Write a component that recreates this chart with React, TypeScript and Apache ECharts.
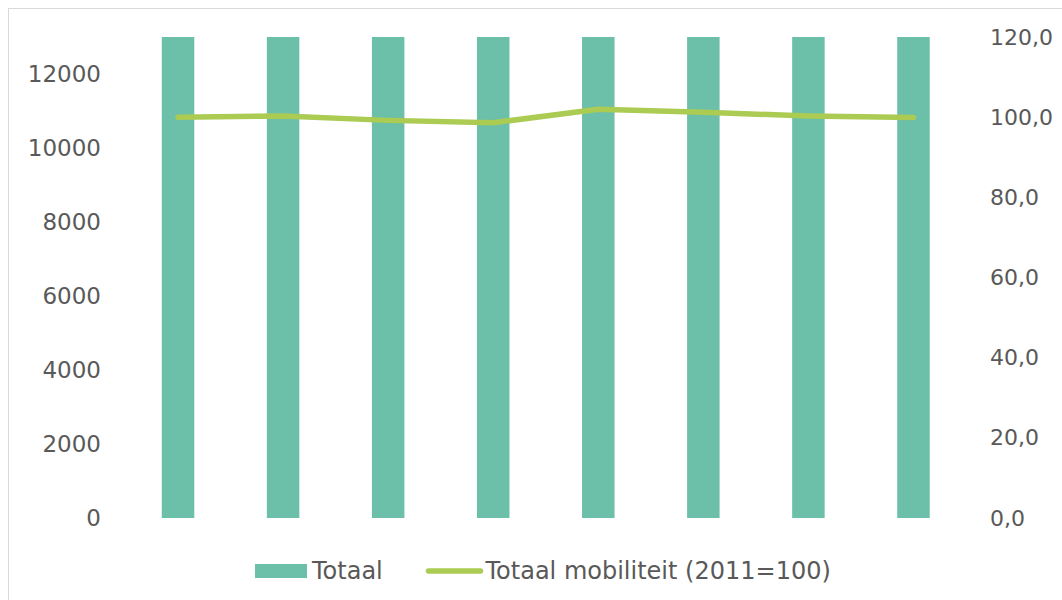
import React, { useEffect, useRef } from "react";
import * as echarts from "echarts";

const categories = ["2011", "2012", "2013", "2014", "2015", "2016", "2017", "2018"];
const totaal = [15400, 15450, 15280, 15180, 15700, 15580, 15450, 15380];
const mobiliteit = [100.0, 100.3, 99.2, 98.6, 102.0, 101.2, 100.3, 99.9];
const leftTicks = { min: 0, max: 13000, interval: 2000 };
const rightTicks = { min: 0, max: 120, interval: 20 };

const FONT = "DejaVu Sans";
const GRAY = "#595959";
const TEAL = "#6cbfa8";
const GREEN = "#abcb53";

export default function App() {
  const ref = useRef<HTMLDivElement>(null);
  useEffect(() => {
    if (!ref.current) return;
    const chart = echarts.init(ref.current, undefined, { renderer: "svg" });
    chart.setOption({
      animation: false,
      backgroundColor: "#ffffff",
      textStyle: { fontFamily: FONT },
      grid: { left: 116.5, right: 96, top: 28, bottom: 82, containLabel: false },
      legend: {
        left: 241,
        top: 545,
        itemWidth: 52,
        itemHeight: 14,
        itemGap: 43,
        textStyle: { fontFamily: FONT, fontSize: 24, color: GRAY },
        data: [
          { name: "Totaal", icon: "rect" },
          {
            name: "Totaal mobiliteit (2011=100)",
            itemStyle: { opacity: 0 },
            lineStyle: { width: 5.5, cap: "round", color: GREEN },
          },
        ],
      },
      xAxis: {
        type: "category",
        data: categories,
        axisLine: { show: false },
        axisTick: { show: false },
        axisLabel: { show: false },
        splitLine: { show: false },
      },
      yAxis: [
        {
          type: "value",
          min: leftTicks.min,
          max: leftTicks.max,
          interval: leftTicks.interval,
          axisLine: { show: false },
          axisTick: { show: false },
          splitLine: { show: false },
          axisLabel: {
            showMaxLabel: false,
            margin: 24.5,
            fontFamily: FONT,
            fontSize: 23,
            color: GRAY,
            formatter: (v: number) => String(v),
          },
        },
        {
          type: "value",
          position: "right",
          min: rightTicks.min,
          max: rightTicks.max,
          interval: rightTicks.interval,
          axisLine: { show: false },
          axisTick: { show: false },
          splitLine: { show: false },
          axisLabel: {
            margin: 24,
            fontFamily: FONT,
            fontSize: 22,
            color: GRAY,
            formatter: (v: number) => v.toFixed(1).replace(".", ","),
          },
        },
      ],
      series: [
        {
          name: "Totaal",
          type: "bar",
          data: totaal,
          yAxisIndex: 0,
          barWidth: 32.5,
          clip: true,
          itemStyle: { color: TEAL },
        },
        {
          name: "Totaal mobiliteit (2011=100)",
          type: "line",
          data: mobiliteit,
          yAxisIndex: 1,
          symbol: "none",
          itemStyle: { color: GREEN },
          lineStyle: { color: GREEN, width: 5.5, cap: "round", join: "round" },
        },
      ],
    });
    return () => chart.dispose();
  }, []);
  return (
    <div
      style={{
        position: "absolute",
        left: 8,
        top: 8,
        width: 1054,
        height: 592,
        boxSizing: "border-box",
        borderTop: "1px solid #d9d9d9",
        borderLeft: "1px solid #d9d9d9",
        overflow: "hidden",
        background: "#fff",
      }}
    >
      <div ref={ref} style={{ width: 1053, height: 591 }} />
    </div>
  );
}
